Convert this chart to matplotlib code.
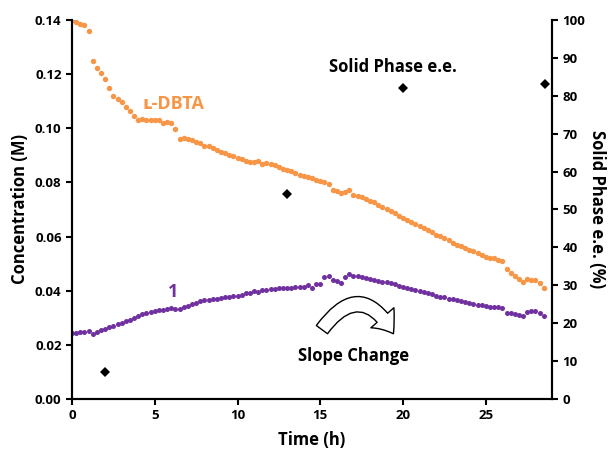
import numpy as np
import matplotlib
matplotlib.use("Agg")
import matplotlib.pyplot as plt
from matplotlib.patches import FancyArrowPatch

plt.rcParams['font.family'] = ['Open Sans', 'DejaVu Sans']

# sampling every 0.25 h
STEP_H = 0.25

dbta = [0.1400, 0.1394, 0.1385, 0.1380, 0.1358, 0.1250, 0.1222, 0.1203, 0.1181, 0.1150,
        0.1120, 0.1107, 0.1096, 0.1080, 0.1064, 0.1045, 0.1031, 0.1034, 0.1031, 0.1030,
        0.1031, 0.1029, 0.1018, 0.1023, 0.1018, 0.0996, 0.0961, 0.0965, 0.0960, 0.0958,
        0.0948, 0.0945, 0.0936, 0.0933, 0.0927, 0.0920, 0.0914, 0.0909, 0.0903, 0.0897,
        0.0891, 0.0886, 0.0880, 0.0876, 0.0874, 0.0879, 0.0867, 0.0873, 0.0868, 0.0863,
        0.0857, 0.0851, 0.0846, 0.0841, 0.0835, 0.0828, 0.0824, 0.0820, 0.0816, 0.0810,
        0.0806, 0.0800, 0.0795, 0.0772, 0.0769, 0.0761, 0.0766, 0.0772, 0.0753, 0.0750,
        0.0745, 0.0737, 0.0732, 0.0726, 0.0718, 0.0709, 0.0701, 0.0693, 0.0686, 0.0676,
        0.0670, 0.0663, 0.0655, 0.0648, 0.0640, 0.0633, 0.0626, 0.0616, 0.0605, 0.0601,
        0.0594, 0.0586, 0.0578, 0.0570, 0.0564, 0.0557, 0.0549, 0.0546, 0.0540, 0.0532,
        0.0525, 0.0521, 0.0519, 0.0515, 0.0511, 0.0480, 0.0465, 0.0455, 0.0445, 0.0432,
        0.0444, 0.0438, 0.0438, 0.0427, 0.0410]

cmpd1 = [0.0243, 0.0245, 0.0247, 0.0248, 0.0250, 0.0239, 0.0248, 0.0255, 0.0260, 0.0265,
         0.0268, 0.0276, 0.0282, 0.0287, 0.0293, 0.0299, 0.0306, 0.0314, 0.0317, 0.0321,
         0.0325, 0.0327, 0.0329, 0.0332, 0.0335, 0.0333, 0.0334, 0.0341, 0.0345, 0.0350,
         0.0356, 0.0361, 0.0365, 0.0367, 0.0368, 0.0370, 0.0373, 0.0376, 0.0377, 0.0380,
         0.0382, 0.0385, 0.0390, 0.0393, 0.0398, 0.0394, 0.0401, 0.0404, 0.0405, 0.0407,
         0.0409, 0.0410, 0.0411, 0.0411, 0.0412, 0.0413, 0.0415, 0.0420, 0.0411, 0.0424,
         0.0424, 0.0452, 0.0454, 0.0441, 0.0435, 0.0430, 0.0452, 0.0460, 0.0455, 0.0454,
         0.0451, 0.0448, 0.0445, 0.0441, 0.0437, 0.0434, 0.0431, 0.0427, 0.0424, 0.0419,
         0.0415, 0.0411, 0.0406, 0.0403, 0.0399, 0.0395, 0.0393, 0.0389, 0.0382, 0.0378,
         0.0375, 0.0371, 0.0368, 0.0365, 0.0362, 0.0358, 0.0354, 0.0352, 0.0349, 0.0347,
         0.0344, 0.0341, 0.0341, 0.0339, 0.0337, 0.0319, 0.0317, 0.0314, 0.0311, 0.0308,
         0.0323, 0.0325, 0.0325, 0.0318, 0.0305]

ee_time = [2.0, 13.0, 20.0, 28.6]
ee_vals = [7.0, 54.0, 82.0, 83.0]

t = np.arange(len(dbta)) * STEP_H

orange = "#F79646"
purple = "#7030A0"

fig = plt.figure(figsize=(6.1, 4.51), dpi=100)
ax = fig.add_axes([0.118, 0.1153, 0.787, 0.8404])
ax2 = ax.twinx()

ax.plot(t, dbta, "o", color=orange, ms=3.9, mew=0)
ax.plot(t, cmpd1, "o", color=purple, ms=3.6, mew=0)
ax2.plot(ee_time, ee_vals, "D", color="black", ms=5, mew=0)

ax.set_xlim(0, 29)
ax.set_ylim(0, 0.14)
ax2.set_ylim(0, 100)
ax.set_xticks([0, 5, 10, 15, 20, 25])
ax.set_yticks(np.arange(0, 0.141, 0.02))
ax.yaxis.set_major_formatter(matplotlib.ticker.FormatStrFormatter("%.2f"))
ax2.set_yticks(range(0, 101, 10))

for a in (ax, ax2):
    a.spines["top"].set_visible(False)
    for s in a.spines.values():
        s.set_linewidth(1.5)
    a.tick_params(direction="out", length=4, width=1.5, labelsize=9.5)
    for lab in a.get_xticklabels() + a.get_yticklabels():
        lab.set_fontweight("bold")

ax.set_xlabel("Time (h)", fontsize=12, fontweight="bold", labelpad=6)
ax.set_ylabel("Concentration (M)", fontsize=12, fontweight="bold", labelpad=4)
ax2.set_ylabel("Solid Phase e.e. (%)", fontsize=12, fontweight="bold",
               rotation=270, labelpad=15)

ax.text(6.1, 0.1088, "ʟ-DBTA", color=orange, fontsize=13, fontweight="bold",
        ha="center", va="center")
ax.text(6.1, 0.0395, "1", color=purple, fontsize=13, fontweight="bold",
        ha="center", va="center")
ax2.text(19.4, 87.5, "Solid Phase e.e.", fontsize=12, fontweight="bold",
         ha="center", va="center")
ax.text(17.0, 0.0158, "Slope Change", fontsize=12, fontweight="bold",
        ha="center", va="center")

arrow = FancyArrowPatch((15.0, 0.0248), (19.5, 0.0232),
                        connectionstyle="arc3,rad=-0.8",
                        arrowstyle="simple,head_length=14,head_width=22,tail_width=10",
                        facecolor="white", edgecolor="black", lw=1.0,
                        mutation_scale=1)
ax.add_patch(arrow)

fig.savefig("out.png", dpi=100)
